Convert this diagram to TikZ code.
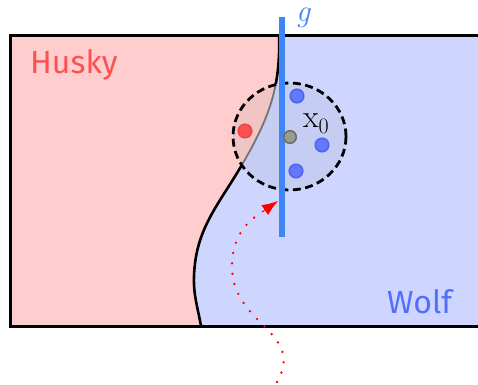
\documentclass[tikz,border=0pt]{standalone}
\usepackage{fontspec}
\setmainfont{Latin Modern Roman}
\setsansfont{Fira Sans}
\usetikzlibrary{arrows.meta}
\definecolor{huskybg}{RGB}{255,205,205}
\definecolor{wolfbg}{RGB}{206,214,255}
\definecolor{huskytxt}{RGB}{250,82,82}
\definecolor{wolftxt}{RGB}{82,110,250}
\definecolor{gline}{RGB}{62,134,245}
\definecolor{reddot}{RGB}{252,80,80}
\definecolor{bluedot}{RGB}{100,120,252}
\definecolor{bluedotedge}{RGB}{78,100,245}
\definecolor{graydot}{RGB}{155,155,145}
\definecolor{graydotedge}{RGB}{110,110,100}
\tikzset{
  bndline/.style={line width=2.6pt,black},
  pt/.style={circle,inner sep=0pt,minimum size=13.5pt,line width=1.6pt},
  redpt/.style={pt,fill=reddot,draw=reddot!92!black},
  bluept/.style={pt,fill=bluedot,draw=bluedotedge},
  graypt/.style={pt,fill=graydot,draw=graydotedge},
  classlbl/.style={font=\sffamily\fontsize{32}{36}\selectfont,inner sep=0pt,anchor=base west},
}
\begin{document}
\begin{tikzpicture}[x=1pt,y=1pt]
\useasboundingbox (0,0) rectangle (478,384);
\clip (0,0) rectangle (478,384);
% regions
\fill[wolfbg] (10,58) rectangle (490,349);
\fill[huskybg] (10,58) -- (10,349) -- (279,349) to[out=-88,in=60] (243,221) to[out=240,in=88] (194,108) to[out=-92,in=100] (201,58) -- cycle;
\draw[bndline] (279,349) to[out=-88,in=60] (243,221) to[out=240,in=88] (194,108) to[out=-92,in=100] (201,58);
% inside the neighbourhood
\begin{scope}
  \clip (289.5,247.5) ellipse [x radius=56.5, y radius=53.5];
  \fill[wolfbg] (10,58) rectangle (490,349);
  \fill[huskybg] (10,58) -- (10,349) -- (279,349) to[out=-88,in=60] (243,221) to[out=240,in=88] (194,108) to[out=-92,in=100] (201,58) -- cycle;
  \draw[line width=1.8pt,black!55] (279,349) to[out=-88,in=60] (243,221) to[out=240,in=88] (194,108);
  \fill[gray,opacity=0.1] (289.5,247.5) ellipse [x radius=56.5, y radius=53.5];
\end{scope}
\draw[line width=2.8pt,dash pattern=on 8pt off 4.5pt] (289.5,247.5) ellipse [x radius=56.5, y radius=53.5];
% frame
\draw[line width=3pt] (490,58) -- (10,58) -- (10,349) -- (490,349);
% line g
\coordinate (gtop) at (282,367);
\coordinate (gbot) at (282,147);
\draw[gline,line width=5.5pt] (gtop) -- (gbot);
\node[gline,inner sep=0pt] (glbl) at (303,366) {\fontsize{31}{32}\selectfont\itshape g};
% points
\node[redpt] (r1) at (245,253) {};
\node[graypt,minimum size=12.5pt] (x0) at (290,247) {};
\node[bluept] (b1) at (297,288) {};
\node[bluept] (b2) at (322,239) {};
\node[bluept] (b3) at (296,213) {};
\node[inner sep=0pt,anchor=base west] (x0lbl) at (303,257) {\fontsize{32}{32}\selectfont x\raisebox{-6.5pt}{\fontsize{22}{22}\selectfont 0}};
% class labels
\node[classlbl,huskytxt] (husky) at (30,311) {Husky};
\node[classlbl,wolftxt] (wolf) at (387,71) {Wolf};
% dotted arrow
\coordinate (s) at (277,2);
\coordinate (m) at (232,117);
\coordinate (tb) at (262,172);
\coordinate (t) at (278,183);
\draw[red,line width=2.6pt,line cap=round,dash pattern=on 0pt off 10.5pt]
  (s) to[out=60,in=-90,looseness=1.2] (m) to[out=90,in=212] (tb);
\draw[red,line width=1pt,-{Latex[length=16pt,width=12pt]}] (tb) -- (t);
\end{tikzpicture}
\end{document}
